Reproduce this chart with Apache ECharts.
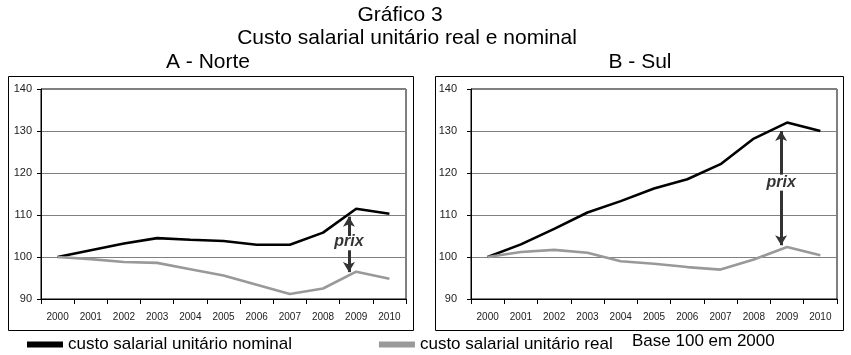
<!DOCTYPE html>
<html>
<head>
<meta charset="utf-8">
<script src="https://cdn.jsdelivr.net/npm/echarts@6/dist/echarts.min.js"></script>
<style>
  html, body { margin: 0; padding: 0; background: #fff; }
  #chart { width: 851px; height: 355px; }
</style>
</head>
<body>
<div id="chart"></div>
<script>
// anos (eixo das categorias)
const years = ['2000', '2001', '2002', '2003', '2004', '2005', '2006', '2007', '2008', '2009', '2010'];

// A - Norte
const norteNominal = [100, 101.6, 103.2, 104.5, 104.1, 103.8, 102.9, 102.9, 105.8, 111.5, 110.3];
const norteReal = [100, 99.5, 98.8, 98.6, 97.1, 95.6, 93.4, 91.2, 92.5, 96.5, 94.8];

// B - Sul
const sulNominal = [100, 103.0, 106.7, 110.6, 113.3, 116.3, 118.5, 122.1, 128.2, 132.0, 130.0];
const sulReal = [100, 101.2, 101.7, 101.0, 99.0, 98.4, 97.6, 97.0, 99.4, 102.4, 100.4];

// eixo Y
const yMin = 90, yMax = 140, yStep = 10;

// setas "prix": [posição x (índice do ano), início, fim]
const norteArrows = [[8.78, 105.0, 109.6], [8.78, 101.6, 96.4]];
const norteLabel = [8.78, 103.7];
const sulArrows = [[8.82, 119.6, 130.0], [8.82, 115.8, 102.8]];
const sulLabel = [8.82, 117.7];

const FONT = '"Liberation Sans", Arial, sans-serif';
const nomeNominal = 'custo salarial unitário nominal';
const nomeReal = 'custo salarial unitário real';

const chart = echarts.init(document.getElementById('chart'));

function catAxis(gridIndex) {
    return {
        type: 'category',
        gridIndex: gridIndex,
        data: years,
        boundaryGap: true,
        axisLine: { onZero: false, lineStyle: { color: '#000', width: 1 } },
        axisTick: { show: true, length: 5, alignWithLabel: false, lineStyle: { color: '#000' } },
        axisLabel: { interval: 0, margin: 13, fontSize: 10, color: '#222', fontFamily: FONT },
        splitLine: { show: false }
    };
}

function hiddenAxis(gridIndex) {
    return {
        type: 'value',
        gridIndex: gridIndex,
        min: -0.5,
        max: 10.5,
        show: false
    };
}

function valAxis(gridIndex, margin) {
    return {
        type: 'value',
        gridIndex: gridIndex,
        min: yMin,
        max: yMax,
        interval: yStep,
        axisLine: { show: true, onZero: false, lineStyle: { color: '#000', width: 1 } },
        axisTick: { show: true, length: 4, lineStyle: { color: '#000' } },
        axisLabel: { margin: margin, fontSize: 11, color: '#222', fontFamily: FONT },
        splitLine: { show: true, lineStyle: { color: '#808080', width: 1 } }
    };
}

function lineSeries(name, data, color, idx) {
    return {
        name: name,
        type: 'line',
        xAxisIndex: idx,
        yAxisIndex: idx,
        data: data,
        symbol: 'none',
        smooth: false,
        lineStyle: { color: color, width: 2.6 },
        itemStyle: { color: color },
        z: 3
    };
}

function prixSeries(idx, label, arrows) {
    return {
        type: 'scatter',
        xAxisIndex: idx + 2,
        yAxisIndex: idx,
        data: [label],
        symbolSize: 1,
        itemStyle: { color: 'transparent' },
        label: {
            show: true,
            position: 'inside',
            formatter: 'prix',
            fontSize: 16,
            fontWeight: 'bold',
            fontStyle: 'italic',
            color: '#000',
            fontFamily: FONT
        },
        markLine: {
            silent: true,
            symbol: ['none', 'arrow'],
            symbolSize: [9, 10],
            label: { show: false },
            lineStyle: { color: '#333', width: 3, type: 'solid' },
            data: arrows.map(a => [{ coord: [a[0], a[1]] }, { coord: [a[0], a[2]] }])
        },
        z: 4
    };
}

const option = {
    animation: false,
    backgroundColor: '#fff',
    grid: [
        { left: 41, top: 89, width: 365, height: 210, show: true, borderColor: '#000', borderWidth: 1 },
        { left: 471, top: 89, width: 366, height: 210, show: true, borderColor: '#000', borderWidth: 1 }
    ],
    xAxis: [catAxis(0), catAxis(1), hiddenAxis(0), hiddenAxis(1)],
    yAxis: [valAxis(0, 9), valAxis(1, 14)],
    legend: {
        data: [nomeNominal, nomeReal],
        left: 22,
        top: 331,
        icon: 'rect',
        itemWidth: 36,
        itemHeight: 6,
        itemGap: 87,
        textStyle: { fontSize: 17, color: '#000', fontFamily: FONT }
    },
    graphic: [
        { type: 'rect', shape: { x: 8.5, y: 76.5, width: 405, height: 254 }, style: { fill: 'none', stroke: '#000', lineWidth: 1 }, z: -1 },
        { type: 'rect', shape: { x: 435.5, y: 76.5, width: 408, height: 254 }, style: { fill: 'none', stroke: '#000', lineWidth: 1 }, z: -1 },
        { type: 'text', x: 400, y: 15, style: { text: 'Gráfico 3', font: '21px ' + FONT, fill: '#000', textAlign: 'center', textVerticalAlign: 'middle' } },
        { type: 'text', x: 407, y: 38, style: { text: 'Custo salarial unitário real e nominal', font: '21px ' + FONT, fill: '#000', textAlign: 'center', textVerticalAlign: 'middle' } },
        { type: 'text', x: 208, y: 62, style: { text: 'A - Norte', font: '21px ' + FONT, fill: '#000', textAlign: 'center', textVerticalAlign: 'middle' } },
        { type: 'text', x: 640, y: 62, style: { text: 'B - Sul', font: '21px ' + FONT, fill: '#000', textAlign: 'center', textVerticalAlign: 'middle' } },
        { type: 'text', x: 632, y: 341, style: { text: 'Base 100 em 2000', font: '17px ' + FONT, fill: '#000', textAlign: 'left', textVerticalAlign: 'middle' } }
    ],
    series: [
        lineSeries(nomeNominal, norteNominal, '#000', 0),
        lineSeries(nomeReal, norteReal, '#999', 0),
        lineSeries(nomeNominal, sulNominal, '#000', 1),
        lineSeries(nomeReal, sulReal, '#999', 1),
        prixSeries(0, norteLabel, norteArrows),
        prixSeries(1, sulLabel, sulArrows)
    ]
};

chart.setOption(option);
</script>
</body>
</html>
